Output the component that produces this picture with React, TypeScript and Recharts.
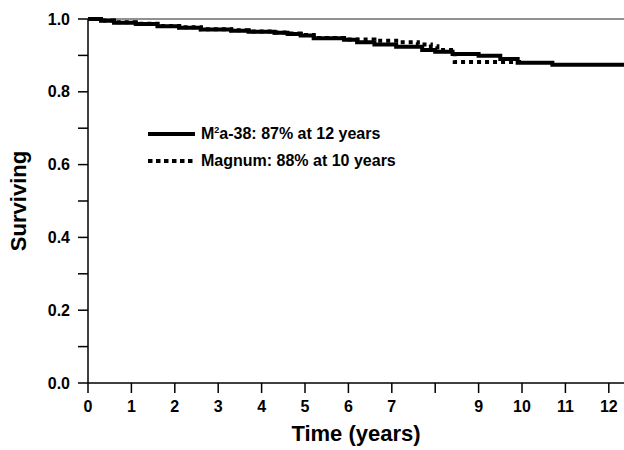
import React from 'react';
import { LineChart, Line, XAxis, YAxis, ReferenceLine, Legend } from 'recharts';

// Kaplan-Meier steps: [time in years, fraction surviving]
const m2aTimes = [0, 0.3, 0.6, 1.1, 1.6, 2.1, 2.6, 3.3, 3.7, 4.3, 4.6, 4.9, 5.2, 5.9, 6.2, 6.6, 7.1, 7.7, 8.0, 8.4, 9.0, 9.5, 9.9, 10.7, 12.35];
const m2aSurv = [1.0, 0.995, 0.99, 0.986, 0.98, 0.976, 0.971, 0.968, 0.965, 0.962, 0.959, 0.955, 0.947, 0.943, 0.936, 0.93, 0.924, 0.915, 0.91, 0.904, 0.899, 0.89, 0.88, 0.874, 0.874];

const magnumTimes = [0, 0.3, 0.6, 1.1, 1.6, 2.1, 2.6, 3.3, 3.7, 4.3, 4.6, 4.9, 5.2, 5.9, 6.6, 7.2, 7.6, 7.9, 8.05, 8.45, 10.0];
const magnumSurv = [1.0, 0.996, 0.991, 0.987, 0.981, 0.977, 0.972, 0.969, 0.966, 0.963, 0.96, 0.956, 0.948, 0.944, 0.94, 0.936, 0.93, 0.925, 0.915, 0.882, 0.882];

const xTicks = [0, 1, 2, 3, 4, 5, 6, 7, 8, 9, 10, 11, 12];
const yTicks = [0, 0.1, 0.2, 0.3, 0.4, 0.5, 0.6, 0.7, 0.8, 0.9, 1.0];

const m2aData = m2aTimes.map((t, i) => ({ t, s: m2aSurv[i] }));
const magnumData = magnumTimes.map((t, i) => ({ t, s: magnumSurv[i] }));

const FONT = '"Liberation Sans", Arial, sans-serif';
const tickStyle = { fill: '#000', fontSize: 16, fontWeight: 700, fontFamily: FONT };

function KmLegend() {
  const row = { display: 'flex', alignItems: 'center', height: 27 } as const;
  const text = { fontFamily: FONT, fontSize: 16, fontWeight: 700, color: '#000', marginLeft: 6, lineHeight: '16px' } as const;
  return (
    <div>
      <div style={row}>
        <svg width={47} height={8}>
          <line x1={0} y1={4} x2={47} y2={4} stroke="#000" strokeWidth={4} />
        </svg>
        <span style={text}>
          M<sup style={{ fontSize: 9, verticalAlign: 6, lineHeight: 0 }}>2</sup>a-38: 87% at 12 years
        </span>
      </div>
      <div style={row}>
        <svg width={47} height={8}>
          <line x1={0} y1={4} x2={47} y2={4} stroke="#000" strokeWidth={4} strokeDasharray="4.5 3.5" />
        </svg>
        <span style={text}>Magnum: 88% at 10 years</span>
      </div>
    </div>
  );
}

export default function App() {
  return (
    <div style={{ position: 'absolute', left: 0, top: 0, background: '#fff' }}>
      <LineChart width={624} height={450} margin={{ top: 19, right: 0, bottom: 0, left: 0 }}>
        <XAxis
          type="number"
          dataKey="t"
          domain={[0, 12.35]}
          allowDataOverflow
          ticks={xTicks}
          tickFormatter={(v: number) => (v === 8 ? '' : String(v))}
          tick={tickStyle}
          tickSize={10}
          tickMargin={8}
          height={67}
          axisLine={{ stroke: '#000', strokeWidth: 1.5 }}
          tickLine={{ stroke: '#000', strokeWidth: 1.5 }}
          label={{
            value: 'Time (years)',
            position: 'insideBottom',
            offset: 9,
            fill: '#000',
            fontSize: 22,
            fontWeight: 700,
            fontFamily: FONT,
          }}
        />
        <YAxis
          type="number"
          dataKey="s"
          domain={[0, 1]}
          ticks={yTicks}
          tickFormatter={(v: number) => (Math.round(v * 10) % 2 === 0 ? v.toFixed(1) : '')}
          tick={tickStyle}
          tickSize={10}
          tickMargin={8}
          width={88}
          axisLine={{ stroke: '#000', strokeWidth: 1.5 }}
          tickLine={{ stroke: '#000', strokeWidth: 1.5 }}
          label={{
            value: 'Surviving',
            angle: -90,
            position: 'insideLeft',
            offset: 18,
            fill: '#000',
            fontSize: 22,
            fontWeight: 700,
            fontFamily: FONT,
            style: { textAnchor: 'middle' },
          }}
        />
        <ReferenceLine y={1} stroke="#222" strokeWidth={1} />
        <Legend
          layout="horizontal"
          align="center"
          verticalAlign="middle"
          content={() => <KmLegend />}
          wrapperStyle={{ left: 148, top: 120, width: 300 }}
        />
        <Line
          data={magnumData}
          dataKey="s"
          type="stepAfter"
          stroke="#000"
          strokeWidth={4}
          strokeDasharray="4 4"
          dot={false}
          isAnimationActive={false}
        />
        <Line
          data={m2aData}
          dataKey="s"
          type="stepAfter"
          stroke="#000"
          strokeWidth={4}
          dot={false}
          isAnimationActive={false}
        />
      </LineChart>
    </div>
  );
}
